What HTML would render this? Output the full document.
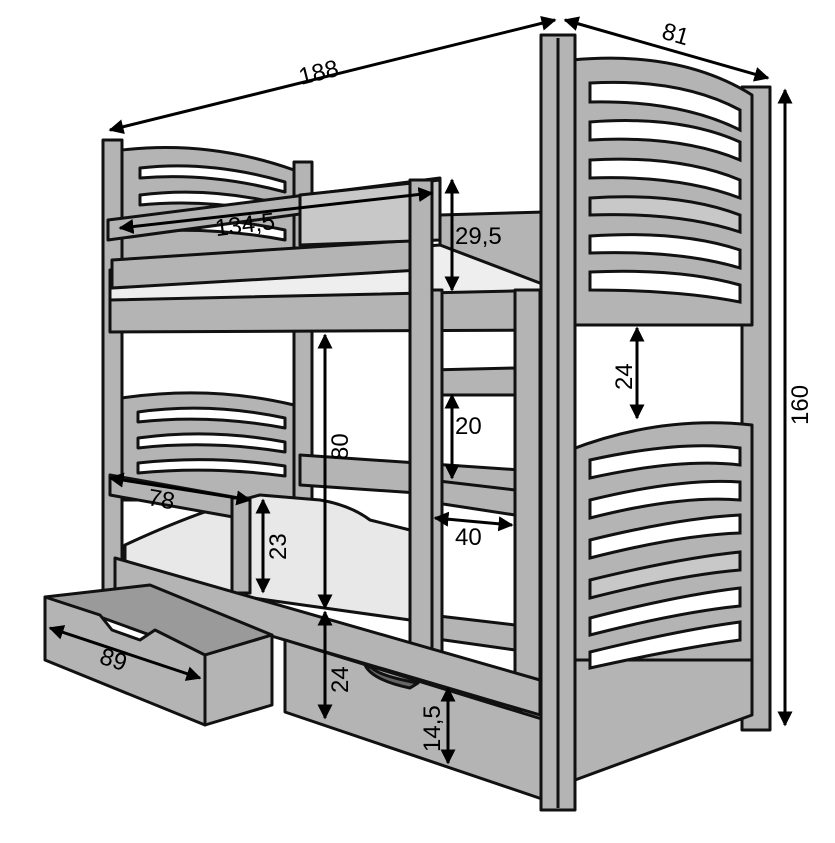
<!DOCTYPE html>
<html><head><style>html,body{margin:0;padding:0;background:#fff}svg{display:block}text{font-family:"Liberation Sans",sans-serif;font-size:24px;fill:#000}</style></head>
<body>
<svg width="835" height="843" viewBox="0 0 835 843" xmlns="http://www.w3.org/2000/svg">
<defs><marker id="a" viewBox="0 0 10 10" refX="9" refY="5" markerWidth="5" markerHeight="5" orient="auto-start-reverse"><path d="M0,0L10,5L0,10z" fill="#000"/></marker></defs>
<g stroke="#111" stroke-width="3" stroke-linejoin="round" fill="#b4b4b4">
<rect x="103" y="140" width="19" height="460"/>
<rect x="294" y="162" width="18" height="430"/>
<path d="M122,150 Q210,140 294,170 L294,265 L122,265 Z"/>
<path d="M140,168 Q210,160 285,182 L285,192 Q210,172 140,178Z" fill="#fff"/>
<path d="M140,195 Q210,186 285,205 L285,215 Q210,198 140,205Z" fill="#fff"/>
<path d="M140,222 Q210,214 285,230 L285,240 Q210,226 140,232Z" fill="#fff"/>
<path d="M122,398 Q210,385 294,405 L294,500 L122,500 Z"/>
<path d="M138,412 Q210,402 285,418 L285,428 Q210,414 138,422Z" fill="#fff"/>
<path d="M138,438 Q210,428 285,442 L285,452 Q210,440 138,448Z" fill="#fff"/>
<path d="M138,463 Q210,455 285,466 L285,476 Q210,466 138,473Z" fill="#fff"/>
<path d="M300,455 L520,470 L520,500 L300,485Z"/>
<path d="M440,215 L545,212 L545,290 L440,290Z"/>
<path d="M110,270 L440,245 L545,285 L545,300 L110,300Z" fill="#eee"/>
<path d="M110,300 L560,290 L560,330 L110,332Z"/>
<path d="M112,260 L420,240 L420,270 L112,288Z"/>
<path d="M108,220 L440,178 L440,195 L108,240Z"/>
<path d="M300,195 L440,180 L440,240 L300,245Z" fill="#c8c8c8"/>
<path d="M125,545 Q200,510 260,495 L320,500 Q350,505 370,520 L410,530 L410,620 L125,580Z" fill="#e8e8e8"/>
<path d="M110,475 L250,500 L250,520 L110,495Z"/>
<rect x="232" y="498" width="18" height="95"/>
<rect x="515" y="290" width="25" height="420"/>
<path d="M430,370 L515,368 L515,395 L430,395Z"/>
<path d="M430,480 L515,490 L515,515 L430,502Z"/>
<path d="M430,615 L515,625 L515,650 L430,638Z"/>
<rect x="410" y="180" width="22" height="495"/>
<rect x="432" y="290" width="10" height="385"/>
<path d="M115,558 L540,680 L540,715 L115,590Z"/>
<path d="M285,640 L545,720 L545,800 L285,712Z"/>
<path d="M365,665 Q372,680 410,688 L418,683 Q380,676 372,668Z" fill="#666"/>
<path d="M45,597 L150,585 L272,635 L205,655Z" fill="#9a9a9a"/>
<path d="M205,655 L272,635 L272,705 L205,725Z"/>
<path d="M45,597 L100,615 L112,630 L140,640 L155,630 L205,655 L205,725 L45,660Z"/>
<rect x="742" y="87" width="28" height="643"/>
<path d="M570,450 Q660,415 752,425 L752,680 L570,700Z"/>
<path d="M575,660 L752,660 L752,715 L575,780Z"/>
<path d="M572,60 Q680,50 752,95 L752,325 L572,325Z"/>
<rect x="541" y="35" width="34" height="775"/>
<line x1="558" y1="38" x2="558" y2="808"/>
</g>
<g stroke="#111" stroke-width="3" fill="#fff">
<path d="M590,83 Q680,78 740,110 L740,130 Q680,100 590,102Z"/>
<path d="M590,122 Q680,115 740,142 L740,160 Q680,135 590,140Z"/>
<path d="M590,160 Q680,155 740,180 L740,198 Q680,175 590,178Z"/>
<path d="M590,198 Q680,192 740,215 L740,232 Q680,212 590,215Z" fill="#c8c8c8"/>
<path d="M590,236 Q680,230 740,250 L740,268 Q680,250 590,253Z"/>
<path d="M590,272 Q680,268 740,285 L740,302 Q680,290 590,290Z"/>
<path d="M590,460 Q680,440 740,448 L740,465 Q680,458 590,478Z"/>
<path d="M590,500 Q680,478 740,482 L740,500 Q680,495 590,518Z"/>
<path d="M590,540 Q680,518 740,515 L740,533 Q680,535 590,558Z"/>
<path d="M590,580 Q680,558 740,552 L740,570 Q680,575 590,598Z" fill="#c8c8c8"/>
<path d="M590,618 Q680,595 740,588 L740,606 Q680,612 590,635Z"/>
<path d="M590,652 Q680,630 740,622 L740,640 Q680,648 590,668Z"/>
</g>
<g stroke="#000" stroke-width="3" fill="none" marker-start="url(#a)" marker-end="url(#a)">
<line x1="110" y1="130" x2="555" y2="20"/>
<line x1="565" y1="20" x2="768" y2="78"/>
<line x1="785" y1="90" x2="785" y2="725"/>
<line x1="120" y1="228" x2="432" y2="193"/>
<line x1="452" y1="180" x2="452" y2="290"/>
<line x1="637" y1="328" x2="637" y2="418"/>
<line x1="325" y1="335" x2="325" y2="608"/>
<line x1="325" y1="612" x2="325" y2="718"/>
<line x1="452" y1="395" x2="452" y2="478"/>
<line x1="435" y1="518" x2="512" y2="525"/>
<line x1="110" y1="478" x2="250" y2="500"/>
<line x1="263" y1="500" x2="263" y2="592"/>
<line x1="50" y1="628" x2="200" y2="678"/>
<line x1="448" y1="688" x2="448" y2="763"/>
</g>
<g>
<text x="298" y="80" transform="rotate(-14 320 70)">188</text>
<text x="662" y="42" transform="rotate(16 675 35)">81</text>
<text x="0" y="0" transform="translate(808 425) rotate(-90)">160</text>
<text x="215" y="232" transform="rotate(-7 250 225)">134,5</text>
<text x="455" y="244">29,5</text>
<text x="0" y="0" transform="translate(632 390) rotate(-90)">24</text>
<text x="0" y="0" transform="translate(348 460) rotate(-90)">80</text>
<text x="455" y="434">20</text>
<text x="455" y="545">40</text>
<text x="148" y="508" transform="rotate(10 165 500)">78</text>
<text x="0" y="0" transform="translate(286 560) rotate(-90)">23</text>
<text x="100" y="668" transform="rotate(18 115 660)">89</text>
<text x="0" y="0" transform="translate(348 693) rotate(-90)">24</text>
<text x="0" y="0" transform="translate(440 752) rotate(-90)">14,5</text>
</g>
</svg>
</body></html>
